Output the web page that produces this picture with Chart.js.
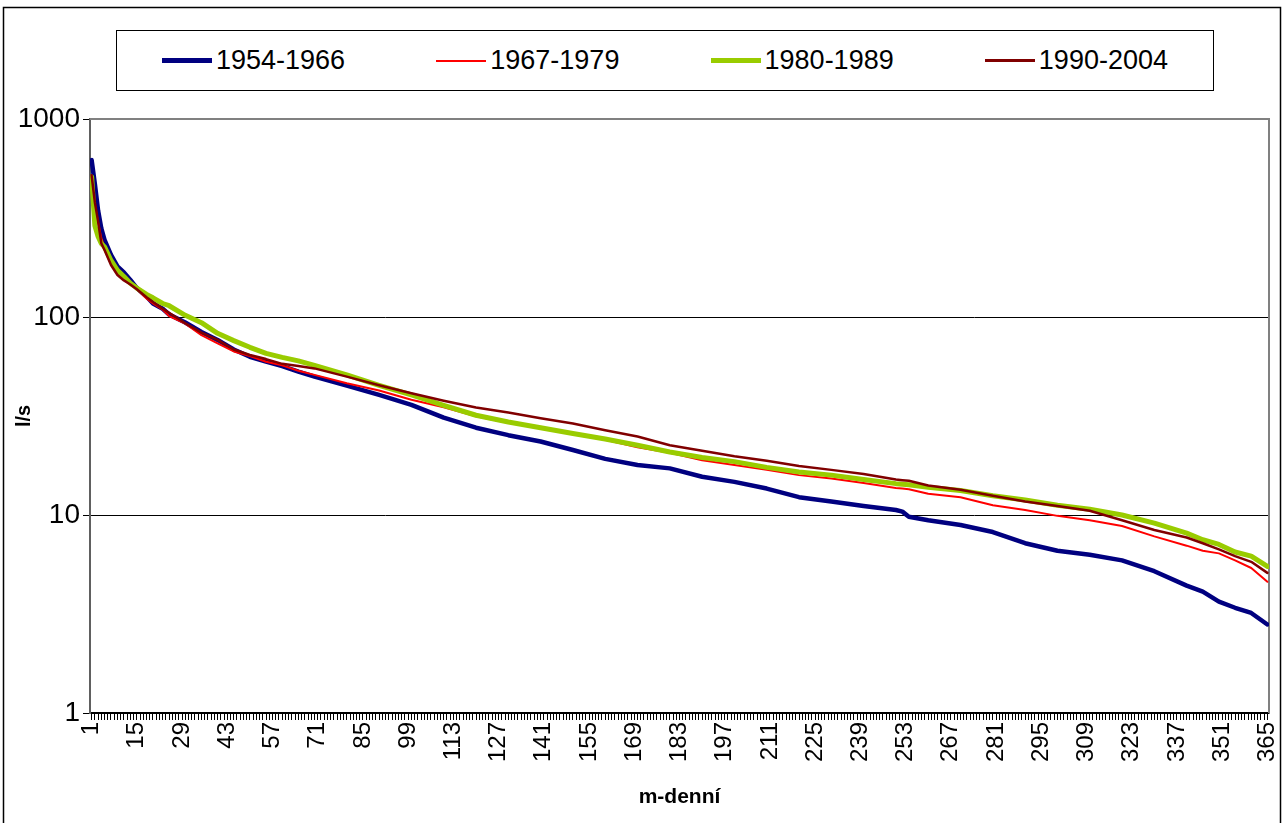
<!DOCTYPE html>
<html>
<head>
<meta charset="utf-8">
<script src="https://cdn.jsdelivr.net/npm/chart.js@4.4.1/dist/chart.umd.min.js"></script>
<style>
  html, body { margin: 0; padding: 0; background: #fff; }
  #wrap { position: relative; width: 1283px; height: 823px; overflow: hidden; }
  #legend {
    position: absolute; left: 116px; top: 30px; width: 1098px; height: 61px;
    box-sizing: border-box; border: 1px solid #000; background: #fff;
    display: flex; justify-content: space-between; align-items: center; padding: 0 45px;
    font-family: "Liberation Sans", Arial, sans-serif; font-size: 27px; color: #000;
  }
  .item { display: flex; align-items: center; }
  .swatch { width: 50px; margin-right: 4px; }
</style>
</head>
<body>
<div id="wrap">
  <canvas id="chart" width="1283" height="823"></canvas>
  <div id="legend"></div>
</div>
<script>
const days = [1, 2, 3, 4, 5, 7, 9, 11, 13, 15, 18, 20, 23, 25, 30, 35, 40, 45, 50, 55, 60, 65, 70, 80, 90,
  100, 110, 120, 130, 140, 150, 160, 170, 180, 190, 200, 210, 220, 230, 240, 250, 252, 254, 260, 270,
  280, 290, 300, 310, 320, 330, 340, 345, 350, 355, 360, 365];

const q1954 = [620, 470, 345, 280, 245, 206, 180, 168, 154, 140, 127, 117, 110, 103, 93.8, 84, 76.6, 68.5, 63, 59.5, 56.5, 53, 50, 45, 40.4,
  36, 31, 27.6, 25.3, 23.5, 21.3, 19.2, 17.9, 17.2, 15.6, 14.7, 13.6, 12.3, 11.7, 11.1, 10.6, 10.4, 9.8, 9.4, 8.9,
  8.2, 7.2, 6.6, 6.3, 5.9, 5.2, 4.4, 4.1, 3.65, 3.4, 3.2, 2.8];
const q1967 = [500, 370, 300, 250, 225, 195, 168, 155, 148, 138, 124, 117, 109, 101, 92.5, 81, 73.6, 67, 63.5, 59.4, 57, 53.5, 51, 46.3, 42.5,
  38.2, 35, 31.5, 29.2, 27.4, 25.6, 24, 22, 20.6, 18.9, 17.9, 16.9, 15.9, 15.3, 14.5, 13.7, 13.6, 13.5, 12.8, 12.3,
  11.2, 10.6, 9.9, 9.4, 8.8, 7.8, 7.0, 6.6, 6.4, 5.9, 5.4, 4.6];
const q1980 = [510, 290, 255, 235, 226, 193, 172, 160, 148, 140, 130, 125, 117, 114, 102, 93.6, 82.7, 76, 70.3, 65.5, 62.5, 60, 57, 51, 45.2,
  40.4, 35.8, 31.9, 29.5, 27.6, 25.8, 24.2, 22.5, 20.8, 19.5, 18.6, 17.4, 16.5, 15.9, 15.1, 14.4, 14.3, 14.2, 13.8, 13.3,
  12.5, 11.9, 11.2, 10.7, 10.0, 9.1, 8.1, 7.5, 7.1, 6.5, 6.2, 5.5];
const q1990 = [520, 380, 305, 236, 218, 183, 163, 153, 146, 138, 126, 119, 110, 105, 93, 83.4, 76.6, 68.5, 64.3, 61.3, 58, 56.5, 55, 50, 45.2,
  41.2, 37.8, 34.9, 32.9, 30.8, 29, 26.8, 24.9, 22.5, 21.1, 19.8, 18.8, 17.7, 16.9, 16.1, 15.1, 15.0, 14.9, 14.1, 13.4,
  12.5, 11.7, 11.1, 10.5, 9.4, 8.4, 7.7, 7.2, 6.7, 6.2, 5.8, 5.1];

const seriesNames = ['1954-1966', '1967-1979', '1980-1989', '1990-2004'];
const seriesValues = [q1954, q1967, q1980, q1990];

const xTickLabels = [1, 15, 29, 43, 57, 71, 85, 99, 113, 127, 141, 155, 169, 183, 197, 211, 225, 239, 253,
  267, 281, 295, 309, 323, 337, 351, 365];
const yTickValues = [1, 10, 100, 1000];

const lineStyles = [
  { color: '#000080', width: 4.5 },
  { color: '#FF0000', width: 2 },
  { color: '#99CC00', width: 5 },
  { color: '#800000', width: 2.5 }
];

const FONT = '"Liberation Sans", Arial, sans-serif';

const datasets = seriesNames.map((name, i) => ({
  label: name,
  data: days.map((d, j) => ({ x: d, y: seriesValues[i][j] })),
  borderColor: lineStyles[i].color,
  backgroundColor: lineStyles[i].color,
  borderWidth: lineStyles[i].width,
  pointRadius: 0,
  tension: 0,
  borderJoinStyle: 'round',
  borderCapStyle: 'round',
  order: seriesNames.length - i
}));

// html legend in a bordered box, like the original
const legendEl = document.getElementById('legend');
seriesNames.forEach((name, i) => {
  const item = document.createElement('div');
  item.className = 'item';
  const sw = document.createElement('span');
  sw.className = 'swatch';
  sw.style.height = Math.round(lineStyles[i].width) + 'px';
  sw.style.background = lineStyles[i].color;
  const txt = document.createElement('span');
  txt.textContent = name;
  item.appendChild(sw);
  item.appendChild(txt);
  legendEl.appendChild(item);
});

const framePlugin = {
  id: 'frame',
  beforeDatasetsDraw(chart) {
    const { ctx, chartArea: a } = chart;
    ctx.save();
    ctx.strokeStyle = '#808080';
    ctx.lineWidth = 2;
    ctx.beginPath();
    ctx.moveTo(a.left, a.top);
    ctx.lineTo(a.right, a.top);
    ctx.lineTo(a.right, a.bottom);
    ctx.stroke();
    ctx.restore();
  },
  afterDraw(chart) {
    const { ctx } = chart;
    ctx.save();
    ctx.strokeStyle = '#000';
    ctx.lineWidth = 1.5;
    ctx.strokeRect(3.5, 7.5, 1277, 840);
    ctx.restore();
  }
};

new Chart(document.getElementById('chart'), {
  type: 'line',
  data: { datasets },
  plugins: [framePlugin],
  options: {
    responsive: false,
    animation: false,
    layout: { padding: { left: 0, top: 119, right: 14, bottom: 0 } },
    plugins: { legend: { display: false }, tooltip: { enabled: false } },
    scales: {
      x: {
        type: 'linear',
        min: 0.5,
        max: 365.5,
        afterBuildTicks(scale) {
          const t = [];
          for (let d = 1; d <= 365; d++) t.push({ value: d });
          scale.ticks = t;
        },
        afterFit(scale) {
          scale.height = 110;
          scale.paddingLeft = 0;
          scale.paddingRight = 0;
        },
        ticks: {
          autoSkip: false,
          minRotation: 90,
          maxRotation: 90,
          padding: 2,
          color: '#000',
          font: { family: FONT, size: 24 },
          callback: (v) => (xTickLabels.includes(v) ? String(v) : '')
        },
        grid: { drawOnChartArea: false, drawTicks: true, tickLength: 7, color: '#000', lineWidth: 1 },
        border: { display: true, color: '#000', width: 1.5 },
        title: {
          display: true,
          text: 'm-denní',
          color: '#000',
          font: { family: FONT, size: 21, weight: 'bold' },
          padding: { top: 0, bottom: 13 }
        }
      },
      y: {
        type: 'logarithmic',
        min: 1,
        max: 1000,
        afterBuildTicks(scale) { scale.ticks = yTickValues.map(v => ({ value: v })); },
        afterFit(scale) {
          scale.width = 90;
          scale.paddingTop = 0;
          scale.paddingBottom = 0;
        },
        ticks: {
          color: '#000',
          padding: 3,
          font: { family: FONT, size: 28 },
          callback: (v) => String(v)
        },
        grid: {
          color: (c) => (c.tick && c.tick.value === 1000 ? 'rgba(0,0,0,0)' : '#000'),
          tickColor: '#000',
          tickLength: 7,
          lineWidth: 1
        },
        border: { display: true, color: '#606060', width: 2 },
        title: {
          display: true,
          text: 'l/s',
          color: '#000',
          font: { family: FONT, size: 20, weight: 'bold' },
          padding: { top: 12, bottom: 0 }
        }
      }
    }
  }
});
</script>
</body>
</html>
